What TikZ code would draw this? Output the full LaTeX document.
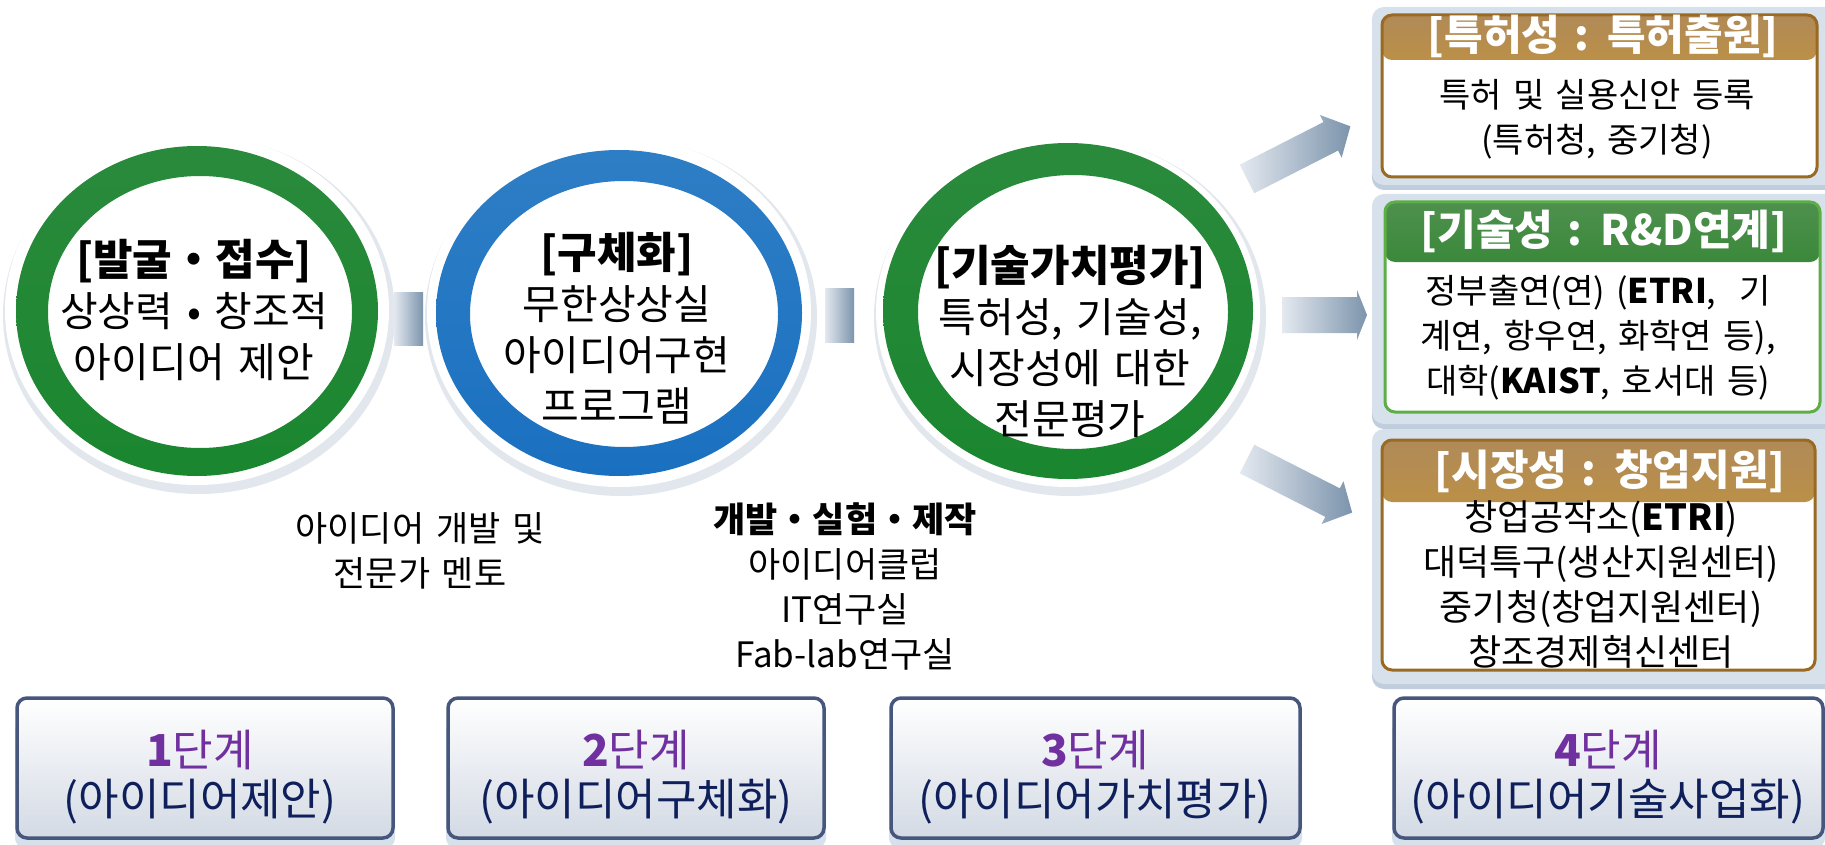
\documentclass[tikz,border=0pt]{standalone}
\usepackage{fontspec}
\setmainfont[WordSpace=1.5]{Noto Sans CJK KR}
\usetikzlibrary{shapes.geometric}
\newcommand{\ringheadfont}{\bfseries\fontsize{43}{51}\selectfont}
\definecolor{gdark}{HTML}{1A862F}
\definecolor{gtop}{HTML}{2A8A3C}
\definecolor{glight}{HTML}{78B984}
\definecolor{bdark}{HTML}{1A70C0}
\definecolor{btop}{HTML}{2E7EC5}
\definecolor{blight}{HTML}{78B0E0}
\definecolor{arrl}{HTML}{E4E9F0}
\definecolor{arrd}{HTML}{7C94AC}
\definecolor{halosh}{HTML}{E2E7EE}
\definecolor{framec}{HTML}{D6E1EC}
\definecolor{framesh}{HTML}{BFCDDD}
\definecolor{brownb}{HTML}{9A6A22}
\definecolor{brownt}{HTML}{B08A58}
\definecolor{brownm}{HTML}{7A4E10}
\definecolor{browng}{HTML}{D89E1C}
\definecolor{greenb}{HTML}{5CAE45}
\definecolor{greent}{HTML}{4E904E}
\definecolor{greenm}{HTML}{0A760A}
\definecolor{stageb}{HTML}{46567C}
\definecolor{stagef}{HTML}{D3DAE4}
\definecolor{purp}{HTML}{7030A0}
\definecolor{navy}{HTML}{0E1F5B}
\tikzset{
  ringtext/.style={align=center, font=\fontsize{41}{51}\selectfont, inner sep=0pt},
  subtext/.style={align=center, font=\fontsize{35}{45}\selectfont, inner sep=0pt},
  boxbody/.style={align=center, font=\fontsize{#1}{45}\selectfont, inner sep=0pt},
  boxhead/.style={font=\bfseries\fontsize{42}{44}\selectfont, text=white, inner sep=0pt},
  stagebox/.style={draw=stageb, line width=3.5pt, rounded corners=10pt, top color=white, bottom color=stagef, minimum width=#1, minimum height=140pt, inner sep=0pt},
  stagetext/.style={align=center, font=\fontsize{44}{49}\selectfont, inner sep=0pt, text=navy},
  infobox/.style={draw=#1, line width=3pt, rounded corners=10pt, fill=white, inner sep=0pt},
  conn/.style={left color=arrl, right color=arrd},
  ringnode/.style={ellipse, inner sep=0pt, minimum width=364pt, minimum height=330pt}
}
\begin{document}
\begin{tikzpicture}[x=1pt,y=-1pt]
\useasboundingbox (0,0) rectangle (1825,845);
\fill[white] (0,0) rectangle (1825,845);

% ---- halos
\foreach \cx/\cy in {197/310, 619/312, 1068/312}{
  \fill[halosh] (\cx+2,\cy+5) ellipse [x radius=196, y radius=179];
  \fill[white] (\cx,\cy) ellipse [x radius=192, y radius=175];
}

% ---- connectors between circles
\shade[conn] (394,292) rectangle (423,345);
\shade[conn] (825,288) rectangle (854,342);

% ---- rings
\shade[even odd rule, top color=gtop, middle color=glight, bottom color=gdark]
  (197,311) ellipse [x radius=181, y radius=165] (200,312) ellipse [x radius=152, y radius=136];
\shade[even odd rule, top color=btop, middle color=blight, bottom color=bdark]
  (619,313) ellipse [x radius=183, y radius=163] (624,314) ellipse [x radius=154, y radius=133];
\shade[even odd rule, top color=gtop, middle color=glight, bottom color=gdark]
  (1068,311) ellipse [x radius=185, y radius=168] (1073,312) ellipse [x radius=155, y radius=137];

\node[ringnode] (c1) at (197,311) {};
\node[ringnode] (c2) at (619,313) {};
\node[ringnode] (c3) at (1068,311) {};

% ---- ring texts
\node[ringtext] (t1) at (194,310) {{\ringheadfont[발굴・접수]}\\상상력 • 창조적\\아이디어 제안};
\node[ringtext] (t2) at (617,328) {{\ringheadfont[구체화]}\\무한상상실\\아이디어구현\\프로그램};
\node[ringtext] (t3) at (1070,341) {{\ringheadfont[기술가치평가]}\\특허성, 기술성,\\시장성에 대한\\전문평가};

% ---- sub labels
\node[subtext] (s1) at (420,551) {아이디어 개발 및\\전문가 멘토};
\node[subtext] (s2) at (845,586) {\textbf{개발・실험・제작}\\아이디어클럽\\IT연구실\\Fab-lab연구실};

% ---- right arrows
\begin{scope}[shift={(1247,179)}, rotate=27]
  \shade[conn] (0,-16) -- (94,-16) -- (94,-24) -- (116,0) -- (94,24) -- (94,16) -- (0,16) -- cycle;
\end{scope}
\shade[conn] (1282,297) -- (1357,297) -- (1357,290) -- (1367,315) -- (1357,340) -- (1357,333) -- (1282,333) -- cycle;
\begin{scope}[shift={(1247,459)}, rotate=-27]
  \shade[conn] (0,-16) -- (96,-16) -- (96,-24) -- (118,0) -- (96,24) -- (96,16) -- (0,16) -- cycle;
\end{scope}

% ---- right boxes: frames
\fill[framesh, rounded corners=12pt] (1372,12) rectangle (1850,190);
\fill[framec, rounded corners=12pt] (1372,7) rectangle (1850,185);
\fill[framesh, rounded corners=12pt] (1372,199) rectangle (1850,429);
\fill[framec, rounded corners=12pt] (1372,194) rectangle (1850,424);
\fill[framesh, rounded corners=12pt] (1372,434) rectangle (1850,689);
\fill[framec, rounded corners=12pt] (1372,429) rectangle (1850,684);

\node[infobox=brownb, minimum width=435pt, minimum height=162pt,
  path picture={\shade[top color=brownt, middle color=brownm, bottom color=browng]
    (path picture bounding box.north west) rectangle ([yshift=-45pt]path picture bounding box.north east);}]
  (b1) at (1599.5,96) {};
\node[infobox=greenb, minimum width=435pt, minimum height=210pt,
  path picture={\shade[top color=greent, middle color=greenm, bottom color=greenm]
    (path picture bounding box.north west) rectangle ([yshift=-60pt]path picture bounding box.north east);}]
  (b2) at (1602.5,307) {};
\node[infobox=brownb, minimum width=433pt, minimum height=230pt,
  path picture={\shade[top color=brownt, middle color=brownm, bottom color=browng]
    (path picture bounding box.north west) rectangle ([yshift=-62pt]path picture bounding box.north east);}]
  (b3) at (1598.5,555) {};

\node[boxhead] (h1) at (1603,36) {[특허성 : 특허출원]};
\node[boxhead] (h2) at (1604,231) {[기술성 : R\&D연계]};
\node[boxhead] (h3) at (1610,471) {[시장성 : 창업지원]};

\node[boxbody=34] (d1) at (1597,119) {특허 및 실용신안 등록\\(특허청, 중기청)};
\node[boxbody=34] (d2) at (1598,338) {정부출연(연) (\textbf{ETRI},~~기\\계연, 항우연, 화학연 등),\\대학(\textbf{KAIST}, 호서대 등)};
\node[boxbody=36] (d3) at (1601,584) {창업공작소(\textbf{ETRI})\\대덕특구(생산지원센터)\\중기청(창업지원센터)\\창조경제혁신센터};

% ---- stage boxes
\foreach \xa/\xb in {17/393, 448/824, 891/1300, 1394/1823}{
  \fill[framec, rounded corners=10pt] (\xa-2,720) rectangle (\xb+2,848);
}
\node[stagebox=376pt] (p1) at (205,768) {};
\node[stagebox=376pt] (p2) at (636,768) {};
\node[stagebox=409pt] (p3) at (1095.5,768) {};
\node[stagebox=429pt] (p4) at (1608.5,768) {};

\node[stagetext] (q1) at (200,777) {{\color{purp}\textbf{1}단계}\\(아이디어제안)};
\node[stagetext] (q2) at (636,777) {{\color{purp}\textbf{2}단계}\\(아이디어구체화)};
\node[stagetext] (q3) at (1095,777) {{\color{purp}\textbf{3}단계}\\(아이디어가치평가)};
\node[stagetext] (q4) at (1608,777) {{\color{purp}\textbf{4}단계}\\(아이디어기술사업화)};
\end{tikzpicture}
\end{document}
